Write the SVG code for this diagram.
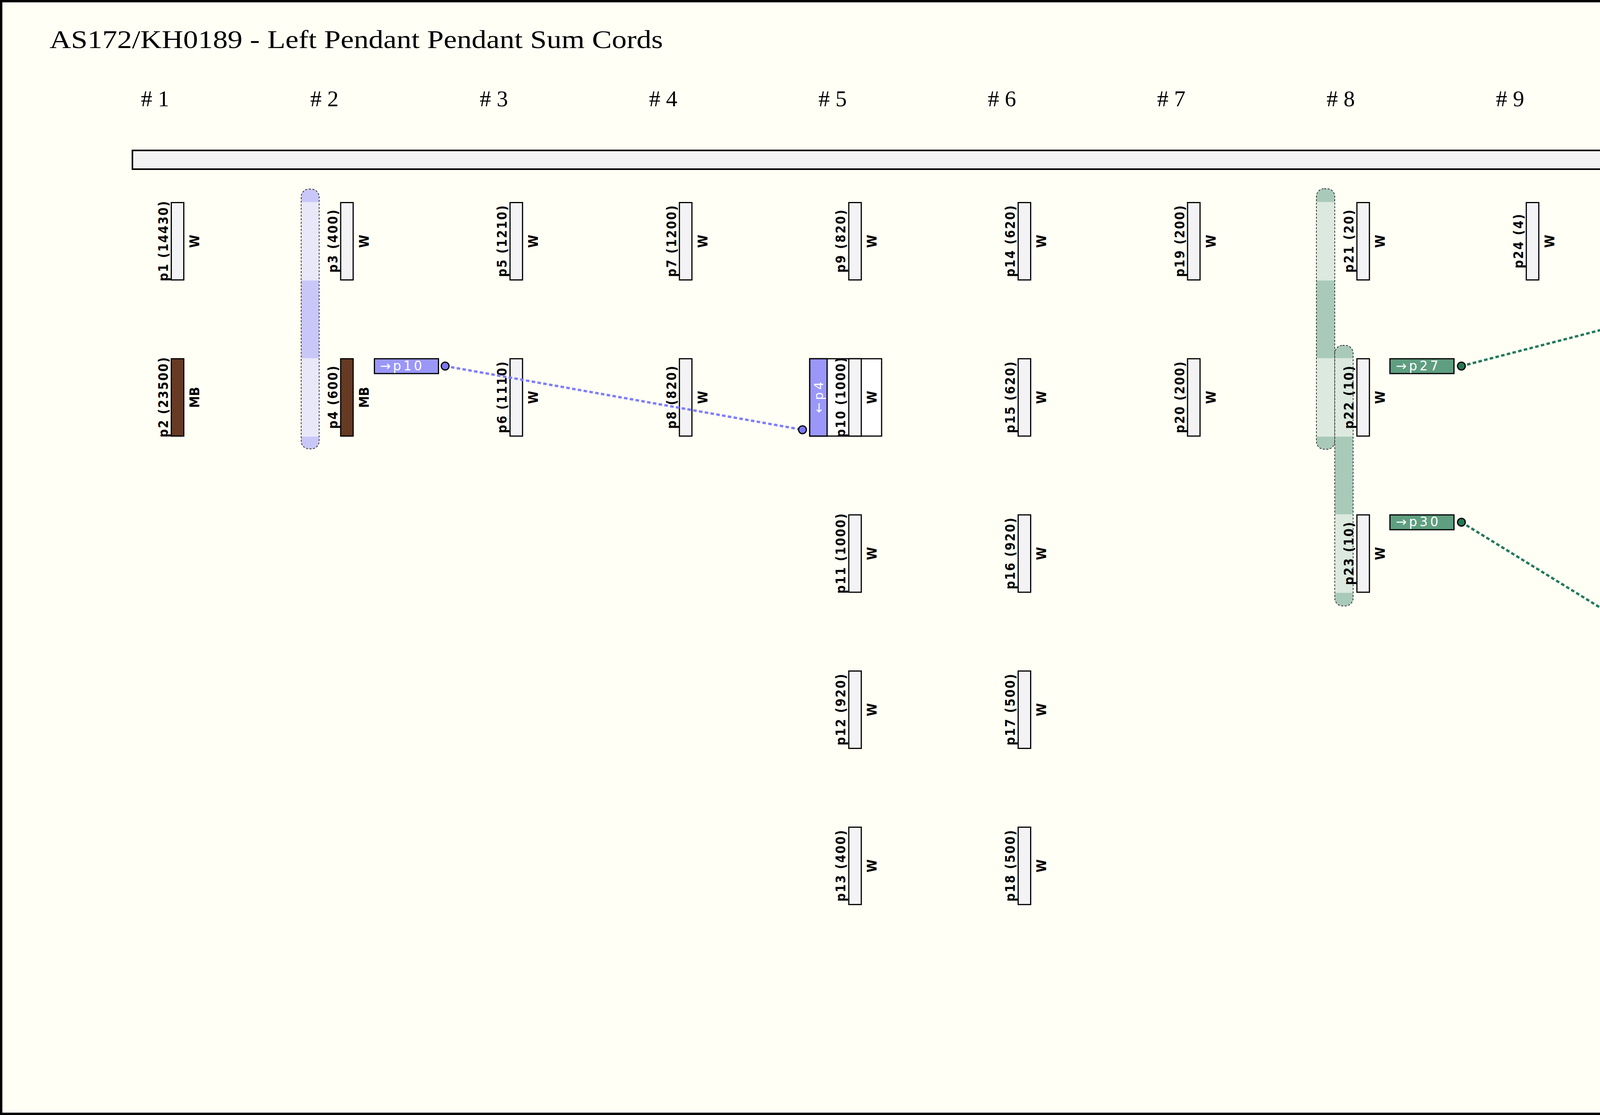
<svg xmlns="http://www.w3.org/2000/svg" width="5629" height="2854" viewBox="0 0 5629 2854">
<style>
.cw{fill:#f3f3f5;stroke:#000;stroke-width:3}
.cmb{fill:#663a23;stroke:#000;stroke-width:3}
.cdb{fill:url(#mbdb);stroke:#000;stroke-width:3}
.lbl{font-family:"DejaVu Sans Condensed","DejaVu Sans",sans-serif;font-weight:bold;font-size:33px;text-anchor:middle;fill:#000}
.col{font-family:"DejaVu Sans Condensed","DejaVu Sans",sans-serif;font-weight:bold;font-size:34px;text-anchor:middle;fill:#000}
.tabt{font-family:"DejaVu Sans",sans-serif;font-size:32px;text-anchor:middle;fill:#fff}
.tagt{font-family:"DejaVu Sans",sans-serif;font-size:33px;fill:#fff}
.box{fill:#fff;stroke:#000;stroke-width:3}
.tabB{fill:#9a97f9;stroke:#000;stroke-width:3}
.tabG{fill:#5f9e80;stroke:#000;stroke-width:3}
.hdr{font-family:"Liberation Serif",serif;font-size:58px;text-anchor:middle;fill:#000}
.rng{fill:none;stroke:#333;stroke-width:2;stroke-dasharray:5 4}
.lnB{fill:none;stroke:#7f7dff;stroke-width:6;stroke-dasharray:9 6;marker-start:url(#dB);marker-end:url(#dB)}
.lnG{fill:none;stroke:#24795a;stroke-width:6;stroke-dasharray:9 6;marker-start:url(#dG);marker-end:url(#dG)}
</style>
<defs>
<pattern id="mbdb" patternUnits="userSpaceOnUse" width="35" height="44">
<rect width="35" height="44" fill="#663a23"/>
<circle cx="6" cy="5" r="3.5" fill="#4f2914"/>
<circle cx="24" cy="12" r="3" fill="#4f2914"/>
<circle cx="14" cy="22" r="3.5" fill="#4f2914"/>
<circle cx="29" cy="30" r="3" fill="#4f2914"/>
<circle cx="8" cy="36" r="3.5" fill="#4f2914"/>
<circle cx="20" cy="40" r="2.5" fill="#4f2914"/>
</pattern>
<marker id="dB" markerUnits="userSpaceOnUse" markerWidth="26" markerHeight="26" refX="13" refY="13" viewBox="0 0 26 26">
<circle cx="13" cy="13" r="10" fill="#7b78f0" stroke="#000" stroke-width="3"/>
</marker>
<marker id="dG" markerUnits="userSpaceOnUse" markerWidth="26" markerHeight="26" refX="13" refY="13" viewBox="0 0 26 26">
<circle cx="13" cy="13" r="10" fill="#237a55" stroke="#000" stroke-width="3"/>
</marker>
</defs>
<rect x="3" y="3" width="5623" height="2848" fill="#fffff5" stroke="#000" stroke-width="6"/>
<text x="127" y="123" font-family="Liberation Serif, serif" font-size="66" textLength="1570" lengthAdjust="spacingAndGlyphs">AS172/KH0189 - Left Pendant Pendant Sum Cords</text>
<g id="headers">
<text class="hdr" x="397" y="272"># 1</text>
<text class="hdr" x="830.6" y="272"># 2</text>
<text class="hdr" x="1264.2" y="272"># 3</text>
<text class="hdr" x="1697.8" y="272"># 4</text>
<text class="hdr" x="2131.4" y="272"># 5</text>
<text class="hdr" x="2565" y="272"># 6</text>
<text class="hdr" x="2998.6" y="272"># 7</text>
<text class="hdr" x="3432.2" y="272"># 8</text>
<text class="hdr" x="3865.8" y="272"># 9</text>
<text class="hdr" x="4299.4" y="272"># 10</text>
<text class="hdr" x="4733" y="272"># 11</text>
<text class="hdr" x="5166.6" y="272"># 12</text>
</g>
<rect id="primary" x="339" y="385" width="4951" height="48" fill="#f3f3f3" stroke="#000" stroke-width="4"/>
<g id="ranges">
<g id="range-blue">
<rect x="771" y="484" width="46" height="665" rx="20" fill="#c9c7f8"/>
<rect x="771" y="517" width="46" height="201" fill="#e9e8f8"/>
<rect x="771" y="916.7" width="46" height="201" fill="#e9e8f8"/>
<rect class="rng" x="771" y="484" width="46" height="665" rx="20"/>
</g>
<g id="range-green-a">
<rect x="3370" y="483" width="47" height="667" rx="20" fill="#a9cab9"/>
<rect x="3370" y="517" width="47" height="201" fill="#dce9df"/>
<rect x="3370" y="916.7" width="47" height="201" fill="#dce9df"/>
<rect class="rng" x="3370" y="483" width="47" height="667" rx="20"/>
</g>
<g id="range-green-b">
<rect x="3417" y="884" width="47" height="667" rx="20" fill="#a9cab9"/>
<rect x="3417" y="916.7" width="47" height="201" fill="#dce9df"/>
<rect x="3417" y="1316.4" width="47" height="201" fill="#dce9df"/>
<rect class="rng" x="3417" y="884" width="47" height="667" rx="20"/>
</g>
</g>
<g id="nodes">
<g id="p1" transform="translate(437,517)"><rect class="cw" x="1.5" y="1.5" width="32" height="198"/><text class="lbl" transform="translate(-7,100.5) rotate(-90)" textLength="205">p1 (14430)</text><text class="col" transform="translate(73,100.5) rotate(-90)">W</text></g>
<g id="p2" transform="translate(437,916.7)"><rect class="cmb" x="1.5" y="1.5" width="32" height="198"/><text class="lbl" transform="translate(-7,100.5) rotate(-90)" textLength="205">p2 (23500)</text><text class="col" transform="translate(73,100.5) rotate(-90)">MB</text></g>
<g id="p3" transform="translate(870.6,517)"><rect class="cw" x="1.5" y="1.5" width="32" height="198"/><text class="lbl" transform="translate(-7,100.5) rotate(-90)" textLength="161">p3 (400)</text><text class="col" transform="translate(73,100.5) rotate(-90)">W</text></g>
<g id="p4" transform="translate(870.6,916.7)"><rect class="cmb" x="1.5" y="1.5" width="32" height="198"/><text class="lbl" transform="translate(-7,100.5) rotate(-90)" textLength="161">p4 (600)</text><text class="col" transform="translate(73,100.5) rotate(-90)">MB</text><rect class="tabB" x="87.9" y="1.5" width="164" height="38"/><text class="tagt" x="102" y="31" textLength="108">→p10</text></g>
<g id="p5" transform="translate(1304.2,517)"><rect class="cw" x="1.5" y="1.5" width="32" height="198"/><text class="lbl" transform="translate(-7,100.5) rotate(-90)" textLength="183">p5 (1210)</text><text class="col" transform="translate(73,100.5) rotate(-90)">W</text></g>
<g id="p6" transform="translate(1304.2,916.7)"><rect class="cw" x="1.5" y="1.5" width="32" height="198"/><text class="lbl" transform="translate(-7,100.5) rotate(-90)" textLength="183">p6 (1110)</text><text class="col" transform="translate(73,100.5) rotate(-90)">W</text></g>
<g id="p7" transform="translate(1737.8,517)"><rect class="cw" x="1.5" y="1.5" width="32" height="198"/><text class="lbl" transform="translate(-7,100.5) rotate(-90)" textLength="183">p7 (1200)</text><text class="col" transform="translate(73,100.5) rotate(-90)">W</text></g>
<g id="p8" transform="translate(1737.8,916.7)"><rect class="cw" x="1.5" y="1.5" width="32" height="198"/><text class="lbl" transform="translate(-7,100.5) rotate(-90)" textLength="161">p8 (820)</text><text class="col" transform="translate(73,100.5) rotate(-90)">W</text></g>
<g id="p9" transform="translate(2171.4,517)"><rect class="cw" x="1.5" y="1.5" width="32" height="198"/><text class="lbl" transform="translate(-7,100.5) rotate(-90)" textLength="161">p9 (820)</text><text class="col" transform="translate(73,100.5) rotate(-90)">W</text></g>
<g id="p10" transform="translate(2171.4,916.7)"><rect class="box" x="-98.5" y="1.5" width="184" height="198"/><rect class="tabB" x="-98.5" y="1.5" width="44.5" height="198"/><text class="tabt" transform="translate(-64,100.5) rotate(-90)" textLength="80">←p4</text><rect class="cw" x="1.5" y="1.5" width="32" height="198"/><text class="lbl" transform="translate(-7,100.5) rotate(-90)" textLength="205">p10 (1000)</text><text class="col" transform="translate(73,100.5) rotate(-90)">W</text></g>
<g id="p11" transform="translate(2171.4,1316.4)"><rect class="cw" x="1.5" y="1.5" width="32" height="198"/><text class="lbl" transform="translate(-7,100.5) rotate(-90)" textLength="205">p11 (1000)</text><text class="col" transform="translate(73,100.5) rotate(-90)">W</text></g>
<g id="p12" transform="translate(2171.4,1716.1)"><rect class="cw" x="1.5" y="1.5" width="32" height="198"/><text class="lbl" transform="translate(-7,100.5) rotate(-90)" textLength="183">p12 (920)</text><text class="col" transform="translate(73,100.5) rotate(-90)">W</text></g>
<g id="p13" transform="translate(2171.4,2115.8)"><rect class="cw" x="1.5" y="1.5" width="32" height="198"/><text class="lbl" transform="translate(-7,100.5) rotate(-90)" textLength="183">p13 (400)</text><text class="col" transform="translate(73,100.5) rotate(-90)">W</text></g>
<g id="p14" transform="translate(2605,517)"><rect class="cw" x="1.5" y="1.5" width="32" height="198"/><text class="lbl" transform="translate(-7,100.5) rotate(-90)" textLength="183">p14 (620)</text><text class="col" transform="translate(73,100.5) rotate(-90)">W</text></g>
<g id="p15" transform="translate(2605,916.7)"><rect class="cw" x="1.5" y="1.5" width="32" height="198"/><text class="lbl" transform="translate(-7,100.5) rotate(-90)" textLength="183">p15 (620)</text><text class="col" transform="translate(73,100.5) rotate(-90)">W</text></g>
<g id="p16" transform="translate(2605,1316.4)"><rect class="cw" x="1.5" y="1.5" width="32" height="198"/><text class="lbl" transform="translate(-7,100.5) rotate(-90)" textLength="183">p16 (920)</text><text class="col" transform="translate(73,100.5) rotate(-90)">W</text></g>
<g id="p17" transform="translate(2605,1716.1)"><rect class="cw" x="1.5" y="1.5" width="32" height="198"/><text class="lbl" transform="translate(-7,100.5) rotate(-90)" textLength="183">p17 (500)</text><text class="col" transform="translate(73,100.5) rotate(-90)">W</text></g>
<g id="p18" transform="translate(2605,2115.8)"><rect class="cw" x="1.5" y="1.5" width="32" height="198"/><text class="lbl" transform="translate(-7,100.5) rotate(-90)" textLength="183">p18 (500)</text><text class="col" transform="translate(73,100.5) rotate(-90)">W</text></g>
<g id="p19" transform="translate(3038.6,517)"><rect class="cw" x="1.5" y="1.5" width="32" height="198"/><text class="lbl" transform="translate(-7,100.5) rotate(-90)" textLength="183">p19 (200)</text><text class="col" transform="translate(73,100.5) rotate(-90)">W</text></g>
<g id="p20" transform="translate(3038.6,916.7)"><rect class="cw" x="1.5" y="1.5" width="32" height="198"/><text class="lbl" transform="translate(-7,100.5) rotate(-90)" textLength="183">p20 (200)</text><text class="col" transform="translate(73,100.5) rotate(-90)">W</text></g>
<g id="p21" transform="translate(3472.2,517)"><rect class="cw" x="1.5" y="1.5" width="32" height="198"/><text class="lbl" transform="translate(-7,100.5) rotate(-90)" textLength="161">p21 (20)</text><text class="col" transform="translate(73,100.5) rotate(-90)">W</text></g>
<g id="p22" transform="translate(3472.2,916.7)"><rect class="cw" x="1.5" y="1.5" width="32" height="198"/><text class="lbl" transform="translate(-7,100.5) rotate(-90)" textLength="161">p22 (10)</text><text class="col" transform="translate(73,100.5) rotate(-90)">W</text><rect class="tabG" x="86" y="1.5" width="164" height="38"/><text class="tagt" x="101" y="31" textLength="109">→p27</text></g>
<g id="p23" transform="translate(3472.2,1316.4)"><rect class="cw" x="1.5" y="1.5" width="32" height="198"/><text class="lbl" transform="translate(-7,100.5) rotate(-90)" textLength="161">p23 (10)</text><text class="col" transform="translate(73,100.5) rotate(-90)">W</text><rect class="tabG" x="86" y="1.5" width="164" height="38"/><text class="tagt" x="101" y="31" textLength="109">→p30</text></g>
<g id="p24" transform="translate(3905.8,517)"><rect class="cw" x="1.5" y="1.5" width="32" height="198"/><text class="lbl" transform="translate(-7,100.5) rotate(-90)" textLength="139">p24 (4)</text><text class="col" transform="translate(73,100.5) rotate(-90)">W</text></g>
<g id="p25" transform="translate(4339.4,517)"><rect class="cw" x="1.5" y="1.5" width="32" height="198"/><text class="lbl" transform="translate(-7,100.5) rotate(-90)" textLength="139">p25 (0)</text><text class="col" transform="translate(73,100.5) rotate(-90)">W</text></g>
<g id="p26" transform="translate(4339.4,916.7)"><rect class="cmb" x="1.5" y="1.5" width="32" height="198"/><text class="lbl" transform="translate(-7,100.5) rotate(-90)" textLength="161">p26 (29)</text><text class="col" transform="translate(73,100.5) rotate(-90)">MB</text></g>
<g id="p27" transform="translate(4773,517)"><rect class="box" x="-98.5" y="1.5" width="184" height="198"/><rect class="tabG" x="-98.5" y="1.5" width="44.5" height="198"/><text class="tabt" transform="translate(-64,100.5) rotate(-90)" textLength="105">←p22</text><rect class="cw" x="1.5" y="1.5" width="32" height="198"/><text class="lbl" transform="translate(-8,100.5) rotate(-90)" textLength="161">p27 (30)</text><text class="col" transform="translate(73,100.5) rotate(-90)">W</text></g>
<g id="p28" transform="translate(4773,916.7)"><rect class="cdb" x="1.5" y="1.5" width="32" height="198"/><text class="lbl" transform="translate(-7,100.5) rotate(-90)" textLength="139">p28 (5)</text><text class="col" transform="translate(73,100.5) rotate(-90)">MB:DB</text></g>
<g id="p29" transform="translate(4773,1316.4)"><rect x="1.5" y="1.5" width="32" height="198" fill="#f3f3f5"/><g fill="#663a23" stroke="#000" stroke-width="2"><rect x="1.5" y="174.3" width="32" height="26.7"/><rect x="1.5" y="121" width="32" height="26.7"/><rect x="1.5" y="67.7" width="32" height="26.7"/><rect x="1.5" y="14.3" width="32" height="26.7"/></g><rect x="1.5" y="1.5" width="32" height="198" fill="none" stroke="#000" stroke-width="3"/><text class="lbl" transform="translate(-7,100.5) rotate(-90)" textLength="139">p29 (3)</text><text class="col" transform="translate(73,100.5) rotate(-90)">W-MB</text></g>
<g id="p30" transform="translate(4773,1716.1)"><rect class="box" x="-98.5" y="1.5" width="184" height="198"/><rect class="tabG" x="-98.5" y="1.5" width="44.5" height="198"/><text class="tabt" transform="translate(-64,100.5) rotate(-90)" textLength="105">←p23</text><rect class="cdb" x="1.5" y="1.5" width="32" height="198"/><text class="lbl" transform="translate(-8,100.5) rotate(-90)" textLength="161">p30 (20)</text><text class="col" transform="translate(73,100.5) rotate(-90)">MB:DB</text></g>
<g id="p31" transform="translate(4773,2115.8)"><rect class="cw" x="1.5" y="1.5" width="32" height="198"/><text class="lbl" transform="translate(-7,100.5) rotate(-90)" textLength="139">p31 (5)</text><text class="col" transform="translate(73,100.5) rotate(-90)">W</text></g>
<g id="p32" transform="translate(5206.6,517)"><rect class="cw" x="1.5" y="1.5" width="32" height="198"/><text class="lbl" transform="translate(-7,100.5) rotate(-90)" textLength="139">p32 (8)</text><text class="col" transform="translate(73,100.5) rotate(-90)">W</text></g>
</g>
<g id="connectors">
<line class="lnB" x1="1139.6" y1="937" x2="2054.4" y2="1100"/>
<line class="lnG" x1="3741.2" y1="937" x2="4656" y2="700.3"/>
<line class="lnG" x1="3741.2" y1="1336.7" x2="4656" y2="1899.4"/>
</g>
</svg>
